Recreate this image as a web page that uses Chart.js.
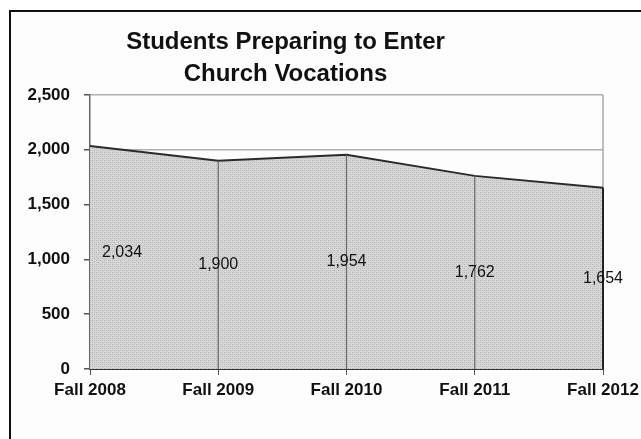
<!DOCTYPE html>
<html>
<head>
<meta charset="utf-8">
<script src="https://cdn.jsdelivr.net/npm/chart.js@4/dist/chart.umd.min.js"></script>
<style>
  html, body { margin: 0; padding: 0; background: #fff; }
  #chart { display: block; }
</style>
</head>
<body>
<canvas id="chart" width="641" height="439"></canvas>
<script>
const terms = ['Fall 2008', 'Fall 2009', 'Fall 2010', 'Fall 2011', 'Fall 2012'];
const students = [2034, 1900, 1954, 1762, 1654];
const yTicks = [0, 500, 1000, 1500, 2000, 2500];

const FONT = "'Liberation Sans', Arial, sans-serif";

// Fine speckled grey fill, like the old office area charts
function speckle() {
    const c = document.createElement('canvas');
    c.width = 4; c.height = 4;
    const g = c.getContext('2d');
    g.fillStyle = '#d6d6d6';
    g.fillRect(0, 0, 4, 4);
    g.fillStyle = '#b4b4b4';
    g.fillRect(0, 0, 1, 1);
    g.fillRect(2, 2, 1, 1);
    g.fillStyle = '#c6c6c6';
    g.fillRect(2, 0, 1, 1);
    g.fillRect(0, 2, 1, 1);
    return g.createPattern(c, 'repeat');
}

// Outer frame around the whole chart
const framePlugin = {
    id: 'frame',
    afterLayout(chart) {
        // the title is centred on the whole frame, which runs past the canvas
        if (chart.titleBlock) {
            chart.titleBlock.left -= 16;
            chart.titleBlock.right -= 16;
        }
    },
    beforeDraw(chart) {
        const ctx = chart.ctx;
        ctx.save();
        ctx.fillStyle = '#fdfdfd';
        ctx.fillRect(10, 11, chart.width, chart.height);
        ctx.strokeStyle = '#111';
        ctx.lineWidth = 2;
        ctx.strokeRect(10, 11, chart.width + 20, chart.height + 20);
        ctx.restore();
    }
};

// Right border of the plot and drop lines under each point
const dropLines = {
    id: 'dropLines',
    beforeDatasetsDraw(chart) {
        const { ctx, chartArea } = chart;
        ctx.save();
        ctx.strokeStyle = '#a8a8a8';
        ctx.lineWidth = 1.5;
        ctx.beginPath();
        ctx.moveTo(chartArea.right, chartArea.top);
        ctx.lineTo(chartArea.right, chartArea.bottom);
        ctx.stroke();
        ctx.restore();
    },
    afterDatasetsDraw(chart) {
        const { ctx } = chart;
        const x = chart.scales.x, y = chart.scales.y;
        ctx.save();
        students.forEach((v, i) => {
            if (i === 0) return;
            const last = i === students.length - 1;
            const px = x.getPixelForValue(i);
            ctx.strokeStyle = last ? '#222' : '#666';
            ctx.lineWidth = last ? 2 : 1.2;
            ctx.beginPath();
            ctx.moveTo(px, y.getPixelForValue(v));
            ctx.lineTo(px, y.getPixelForValue(0));
            ctx.stroke();
        });
        ctx.restore();
    }
};

// Value labels sit halfway down each point's column
const valueLabels = {
    id: 'valueLabels',
    afterDraw(chart) {
        const { ctx } = chart;
        const x = chart.scales.x, y = chart.scales.y;
        ctx.save();
        ctx.font = '16px ' + FONT;
        ctx.fillStyle = '#111';
        ctx.textBaseline = 'middle';
        students.forEach((v, i) => {
            let px = x.getPixelForValue(i);
            let py = y.getPixelForValue(v / 2);
            ctx.textAlign = 'center';
            if (i === 0) { ctx.textAlign = 'left'; px += 12; py -= 5; }
            ctx.fillText(v.toLocaleString('en-US'), px, py);
        });
        ctx.restore();
    }
};

new Chart(document.getElementById('chart'), {
    type: 'line',
    data: {
        labels: terms,
        datasets: [{
            data: students,
            fill: 'origin',
            backgroundColor: speckle(),
            borderColor: '#2a2a2a',
            borderWidth: 2,
            pointRadius: 0,
            tension: 0
        }]
    },
    options: {
        responsive: false,
        animation: false,
        layout: { padding: { left: 0, right: 38, top: 0, bottom: 0 } },
        plugins: {
            legend: { display: false },
            tooltip: { enabled: false },
            title: {
                display: true,
                text: ['Students Preparing to Enter', 'Church Vocations'],
                color: '#111',
                font: { family: FONT, size: 24, weight: 'bold', lineHeight: 1.333 },
                padding: { top: 26, bottom: 5 }
            }
        },
        scales: {
            x: {
                grid: { drawOnChartArea: false, drawTicks: true, tickLength: 6, tickColor: '#555' },
                border: { color: '#333', width: 2 },
                ticks: {
                    color: '#111',
                    padding: 5,
                    maxRotation: 0,
                    autoSkip: false,
                    font: { family: FONT, size: 17, weight: 'bold' }
                },
                afterFit(s) {
                    s.height = 70;
                    s.paddingLeft = 0;
                    s.paddingRight = 0;
                }
            },
            y: {
                min: 0,
                max: 2500,
                afterBuildTicks(s) { s.ticks = yTicks.map(v => ({ value: v })); },
                grid: { color: '#b0b0b0', lineWidth: 1.5, tickLength: 6, tickColor: '#555' },
                border: { color: '#666', width: 1.5 },
                ticks: {
                    color: '#111',
                    padding: 14,
                    font: { family: FONT, size: 17, weight: 'bold' },
                    callback: v => v.toLocaleString('en-US')
                },
                afterFit(s) {
                    s.width = 90;
                    s.paddingTop = 0;
                    s.paddingBottom = 0;
                }
            }
        }
    },
    plugins: [framePlugin, dropLines, valueLabels]
});
</script>
</body>
</html>
